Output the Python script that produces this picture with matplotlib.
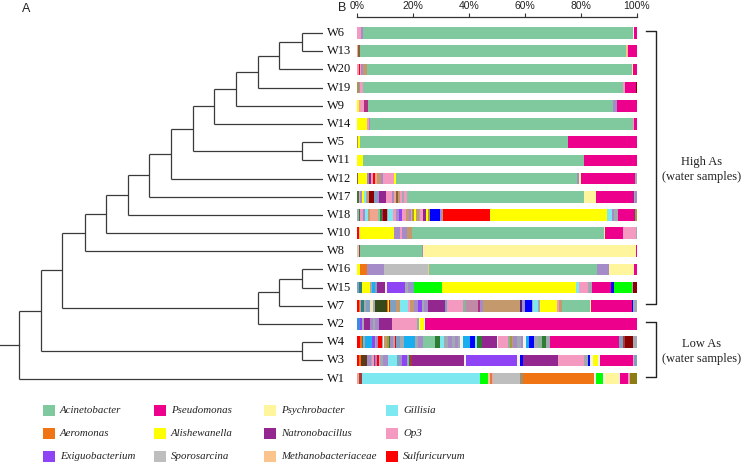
import matplotlib
matplotlib.use("Agg")
import matplotlib.pyplot as plt
from matplotlib import transforms
from matplotlib.patches import Rectangle

# ---------------- data ----------------
samples = ['W6', 'W13', 'W20', 'W19', 'W9', 'W14', 'W5', 'W11', 'W12', 'W17',
           'W18', 'W10', 'W8', 'W16', 'W15', 'W7', 'W2', 'W4', 'W3', 'W1']

# hierarchical clustering merges: (child a, child b, distance); merge k is named 'c{k}'
merges = [
    ('W6', 'W13', 0.069), ('c0', 'W20', 0.145), ('c1', 'W19', 0.214),
    ('c2', 'W9', 0.286), ('c3', 'W14', 0.359), ('W5', 'W11', 0.069),
    ('c4', 'c5', 0.428), ('c6', 'W12', 0.500), ('c7', 'W17', 0.572),
    ('c8', 'W18', 0.641), ('c9', 'W10', 0.714), ('c10', 'W8', 0.783),
    ('W16', 'W15', 0.069), ('c12', 'W7', 0.145), ('c13', 'W2', 0.214),
    ('c11', 'c14', 0.859), ('W4', 'W3', 0.069), ('c15', 'c16', 0.928),
    ('c17', 'W1', 1.000),
]

legend_taxa = ['Acinetobacter', 'Pseudomonas', 'Psychrobacter', 'Gillisia',
               'Aeromonas', 'Alishewanella', 'Natronobacillus', 'Op3',
               'Exiguobacterium', 'Sporosarcina', 'Methanobacteriaceae', 'Sulfuricurvum']
legend_keys = ['Aci', 'Pse', 'Psy', 'Gil', 'Aer', 'Ali', 'Nat', 'Op3',
               'Exi', 'Spo', 'Met', 'Sul']

colors = {
    'Aci': '#80C99E', 'Pse': '#EC008C', 'Psy': '#FFF59D', 'Gil': '#7DE8F0',
    'Aer': '#F07314', 'Ali': '#FFFF00', 'Nat': '#93278F', 'Op3': '#F49AC1',
    'Exi': '#8E44F5', 'Spo': '#BEBEBE', 'Met': '#FBC48D', 'Sul': '#FF0000',
    # minor taxa
    'lav': '#A58BC8', 'gray': '#A3A9B0', 'tan': '#C49A6C', 'salmon': '#F2A58E',
    'brown': '#8B5E3C', 'dbrown': '#5C3A1A', 'olive': '#A89A3C', 'olive2': '#8B7D12',
    'dolive': '#344A1A', 'dred': '#8B0000', 'brred': '#A83A3A', 'blue': '#0000FF',
    'cblue': '#19AEEF', 'sblue': '#3C8CE6', 'lime': '#00FF00', 'dgreen': '#2E7D32',
    'teal': '#2F7F7F', 'bgray': '#7FA0C0', 'ggreen': '#8FB09A', 'mauve': '#C08AA6',
    'mag': '#B03080', 'pale': '#F4F1E8', 'dpurple': '#4B1F6F', 'orange2': '#E07850',
    'cream': '#F3E4C0', 'sage': '#C8D4B8', 'gbrown': '#A09070',
}

W6 = [('Op3', 1.3), ('lav', 0.7), ('Aci', 96.6), ('pale', 0.2), ('Pse', 1.2)]
W13 = [('salmon', 0.5), ('brown', 0.7), ('Aci', 94.9), ('Met', 0.7), ('Pse', 3.2)]
W20 = [('Op3', 0.6), ('Sul', 0.4), ('Op3', 0.5), ('lav', 0.6), ('tan', 1.6), ('Aci', 94.5),
       ('Psy', 0.3), ('Pse', 1.5)]
W19 = [('olive', 0.7), ('lav', 0.5), ('Op3', 0.8), ('Aci', 92.9), ('Op3', 0.7), ('Pse', 3.9),
       ('dred', 0.5)]
W9 = [('Ali', 0.7), ('Op3', 1.9), ('mag', 1.2), ('lav', 0.3), ('Aci', 87.2), ('lav', 1.4),
      ('Pse', 7.3)]
W14 = [('Ali', 3.5), ('Op3', 0.7), ('lav', 0.4), ('Aci', 94.1), ('Op3', 0.2), ('Pse', 1.1)]
W5 = [('olive', 0.4), ('Ali', 0.5), ('pale', 0.2), ('Aci', 74.4), ('Pse', 24.5)]
W11 = [('Ali', 2.2), ('Aci', 78.9), ('Met', 0.1), ('Pse', 18.8)]
W12 = [('brown', 0.5), ('Ali', 2.9), ('lav', 0.8), ('Nat', 0.8), ('Op3', 0.8), ('Sul', 0.5),
       ('salmon', 0.9), ('tan', 1.4), ('lav', 0.6), ('Op3', 4.1), ('Ali', 0.5), ('Aci', 64.6),
       ('lav', 0.8), ('Psy', 0.8), ('Pse', 19.3), ('gray', 0.7)]
W17 = [('dgreen', 0.6), ('Op3', 0.6), ('lav', 0.6), ('Ali', 0.8), ('Gil', 0.6), ('gray', 0.4),
       ('tan', 0.8), ('dred', 1.8), ('bgray', 0.8), ('lav', 0.8), ('Nat', 2.7), ('Op3', 2.0),
       ('lav', 0.8), ('salmon', 0.6), ('brown', 0.6), ('tan', 0.8), ('Op3', 0.8), ('gray', 0.6),
       ('Op3', 1.0), ('Aci', 63.5), ('Psy', 4.2), ('Pse', 13.1), ('Nat', 0.5), ('gray', 0.4),
       ('lav', 0.6)]
W18 = [('gray', 0.6), ('dgreen', 0.6), ('Op3', 1.0), ('lav', 0.6), ('Gil', 1.2), ('tan', 0.6),
       ('salmon', 2.8), ('Aci', 0.8), ('dgreen', 0.6), ('mag', 0.4), ('dred', 1.4), ('gray', 0.6),
       ('Gil', 1.8), ('Op3', 0.8), ('lav', 1.2), ('Exi', 1.2), ('Op3', 1.4), ('tan', 0.8),
       ('lav', 0.8), ('Op3', 0.6), ('olive', 0.6), ('Ali', 0.6), ('tan', 1.0), ('gray', 0.6),
       ('Op3', 1.0), ('Nat', 1.2), ('Ali', 0.6), ('olive', 0.7), ('blue', 3.5), ('lav', 0.6),
       ('tan', 0.6), ('Sul', 16.7), ('Ali', 41.9), ('Gil', 1.6), ('lav', 0.7), ('gray', 1.6),
       ('Pse', 5.7), ('Nat', 0.3), ('olive', 0.7)]
W10 = [('Sul', 0.6), ('Met', 0.5), ('Ali', 12.2), ('lav', 2.1), ('Op3', 0.8), ('lav', 1.5),
       ('tan', 1.8), ('Aci', 68.7), ('Psy', 0.5), ('Pse', 6.2), ('Op3', 4.7), ('gray', 0.4)]
W8 = [('sage', 0.6), ('brred', 0.4), ('Aci', 22.1), ('lav', 0.6), ('Psy', 75.8), ('Pse', 0.5)]
W16 = [('Ali', 1.1), ('Aer', 2.4), ('lav', 6.3), ('Spo', 15.4), ('Met', 0.5), ('Aci', 59.9),
       ('lav', 4.5), ('Psy', 8.8), ('Pse', 1.1)]
W15 = [('bgray', 0.6), ('teal', 1.3), ('Ali', 2.7), ('gray', 0.8), ('cblue', 1.0), ('bgray', 0.6),
       ('Nat', 3.0), ('pale', 0.6), ('Exi', 6.5), ('gray', 1.2), ('lav', 1.0), ('bgray', 1.2),
       ('lime', 9.7), ('Ali', 48.0), ('Gil', 1.2), ('Op3', 3.2), ('gray', 1.3), ('Pse', 6.7),
       ('blue', 1.2), ('lime', 6.3), ('gray', 0.6), ('dred', 1.3)]
W7 = [('Sul', 0.6), ('Aer', 0.4), ('gray', 0.6), ('teal', 0.8), ('gray', 0.8), ('bgray', 1.4),
      ('cream', 1.0), ('gray', 0.8), ('dolive', 4.2), ('Aer', 0.4), ('Ali', 0.5), ('Sul', 0.4),
      ('bgray', 2.0), ('tan', 1.5), ('Gil', 2.9), ('Op3', 0.8), ('tan', 1.4), ('lav', 1.2),
      ('Exi', 1.4), ('gray', 1.0), ('lav', 1.4), ('Nat', 5.9), ('bgray', 0.6), ('Op3', 6.0),
      ('ggreen', 1.0), ('mauve', 4.3), ('mag', 0.8), ('lav', 0.8), ('tan', 13.3),
      ('dpurple', 0.9), ('lav', 0.9), ('blue', 2.4), ('gray', 0.6), ('Gil', 1.6), ('gray', 0.8),
      ('Ali', 5.9), ('Op3', 0.8), ('tan', 1.2), ('Aci', 9.9), ('Psy', 0.3), ('Pse', 14.6),
      ('blue', 0.6), ('gray', 1.3)]
W2 = [('sblue', 1.1), ('Exi', 0.8), ('gray', 0.6), ('Nat', 2.1), ('lav', 1.2), ('gray', 0.6),
      ('lav', 1.5), ('Nat', 4.7), ('Op3', 8.7), ('ggreen', 0.8), ('Psy', 0.4), ('Ali', 1.6),
      ('pale', 0.3), ('Pse', 75.6)]
W4 = [('Sul', 1.1), ('Aer', 0.6), ('teal', 0.6), ('gray', 0.6), ('cblue', 2.6), ('Exi', 0.8),
      ('gray', 0.5), ('lav', 0.6), ('Sul', 1.4), ('gray', 0.6), ('pale', 0.4), ('tan', 1.0),
      ('olive', 0.5), ('dgreen', 0.6), ('lav', 1.0), ('gray', 0.6), ('Sul', 0.6), ('bgray', 1.4),
      ('gray', 1.4), ('cblue', 3.8), ('gray', 1.2), ('lav', 1.8), ('Aci', 4.2), ('dgreen', 1.7),
      ('Gil', 1.6), ('gray', 1.2), ('lav', 1.4), ('gray', 1.2), ('lav', 1.2), ('gray', 0.6),
      ('pale', 0.9), ('cblue', 2.7), ('blue', 1.7), ('Gil', 0.6), ('dgreen', 1.8), ('Nat', 5.4),
      ('pale', 0.4), ('Op3', 3.7), ('ggreen', 0.6), ('olive', 0.6), ('tan', 0.6), ('lav', 1.4),
      ('gray', 1.2), ('lav', 1.0), ('pale', 0.8), ('cblue', 1.4), ('blue', 1.7), ('gray', 1.4),
      ('ggreen', 1.4), ('dgreen', 1.4), ('gray', 1.4), ('Pse', 24.8), ('bgray', 1.2),
      ('brred', 0.8), ('dred', 2.7), ('gray', 1.6)]
W3 = [('Sul', 0.7), ('Aer', 0.6), ('dbrown', 2.2), ('lav', 1.4), ('gray', 0.6), ('Op3', 0.6),
      ('mag', 0.4), ('lav', 0.8), ('Sul', 0.4), ('Op3', 0.6), ('gray', 1.0), ('lav', 1.9),
      ('Gil', 3.0), ('bgray', 1.2), ('lav', 0.8), ('Exi', 1.6), ('gray', 0.6), ('dgreen', 0.5),
      ('brred', 0.6), ('Nat', 18.7), ('pale', 0.7), ('Exi', 18.4), ('pale', 0.9), ('blue', 1.2),
      ('Nat', 12.5), ('Op3', 9.3), ('gray', 1.2), ('blue', 0.8), ('pale', 1.2), ('Ali', 1.8),
      ('pale', 0.6), ('Pse', 11.7), ('Op3', 0.5), ('bgray', 1.0)]
W1 = [('salmon', 0.7), ('brred', 1.0), ('Gil', 42.2), ('lime', 2.8), ('Met', 0.7),
      ('orange2', 0.7), ('salmon', 0.6), ('Spo', 9.5), ('gbrown', 1.2), ('Aer', 25.4),
      ('pale', 0.6), ('lime', 2.6), ('pale', 0.4), ('Psy', 5.3), ('pale', 0.4), ('Pse', 2.8),
      ('Op3', 0.5), ('olive2', 2.6)]

compositions = [W6, W13, W20, W19, W9, W14, W5, W11, W12, W17,
                W18, W10, W8, W16, W15, W7, W2, W4, W3, W1]

groups = [('High As\n(water samples)', 'W6', 'W7'), ('Low As\n(water samples)', 'W2', 'W1')]

# ---------------- figure ----------------
FW, FH = 745, 465
fig = plt.figure(figsize=(FW / 100, FH / 100), dpi=100)
serif = 'Liberation Serif'
sans = 'Liberation Sans'

row0_px, row_step_px = 33.0, 18.19
ax_top_px, ax_bot_px = 17.0, 390.0
ylim_top = (ax_top_px - row0_px) / row_step_px
ylim_bot = (ax_bot_px - row0_px) / row_step_px
ax_b_bottom = 1 - ax_bot_px / FH
ax_b_height = (ax_bot_px - ax_top_px) / FH

# ---- stacked bars ----
ax_b = fig.add_axes([357 / FW, ax_b_bottom, 280 / FW, ax_b_height])
for i, comp in enumerate(compositions):
    total = sum(v for _, v in comp)
    left = 0.0
    for key, v in comp:
        w = v / total * 100
        ax_b.barh(i, w, left=left, height=0.64, color=colors[key], linewidth=0)
        left += w
ax_b.set_xlim(0, 100)
ax_b.set_ylim(ylim_bot, ylim_top)
ax_b.set_yticks([])
for s in ['left', 'right', 'bottom']:
    ax_b.spines[s].set_visible(False)
ax_b.spines['top'].set_color('#333333')
ax_b.spines['top'].set_linewidth(0.9)
ax_b.xaxis.tick_top()
ax_b.set_xticks([0, 20, 40, 60, 80, 100])
ax_b.set_xticklabels(['0%', '20%', '40%', '60%', '80%', '100%'])
ax_b.tick_params(axis='x', top=True, bottom=False, labeltop=True, labelbottom=False,
                 direction='out', length=3, width=0.8, pad=1.0, labelsize=7.5,
                 colors='#333333')
for t in ax_b.get_xticklabels():
    t.set_fontfamily(sans)
    t.set_color('#222222')
ax_b.patch.set_visible(False)

# ---- dendrogram ----
ax_d = fig.add_axes([0, ax_b_bottom, 323 / FW, ax_b_height])
pos = {s: float(i) for i, s in enumerate(samples)}
hgt = {s: 0.0 for s in samples}
lc = '#3a3a3a'
for k, (a, b, h) in enumerate(merges):
    ya, yb = pos[a], pos[b]
    ax_d.plot([h, h], [ya, yb], color=lc, lw=0.9, solid_capstyle='butt')
    ax_d.plot([hgt[a], h], [ya, ya], color=lc, lw=0.9, solid_capstyle='butt')
    ax_d.plot([hgt[b], h], [yb, yb], color=lc, lw=0.9, solid_capstyle='butt')
    name = 'c%d' % k
    pos[name] = (ya + yb) / 2
    hgt[name] = h
root = 'c%d' % (len(merges) - 1)
stub_end = 323 / 304
ax_d.plot([hgt[root], stub_end], [pos[root], pos[root]], color=lc, lw=0.9)
ax_d.set_xlim(stub_end, 0)
ax_d.set_ylim(ylim_bot, ylim_top)
ax_d.axis('off')

lab_tr = transforms.offset_copy(ax_d.transData, fig=fig, x=4, y=0, units='dots')
for i, s in enumerate(samples):
    ax_d.text(0, i, s, transform=lab_tr, ha='left', va='center', fontsize=9,
              fontfamily=serif, color='#111111', clip_on=False)

# ---- overlay (pixel coordinates) ----
ax_o = fig.add_axes([0, 0, 1, 1], zorder=-1)
ax_o.set_xlim(0, FW)
ax_o.set_ylim(FH, 0)
ax_o.axis('off')

ax_o.text(26, 9, 'A', fontsize=9, fontfamily=sans, ha='center', va='center', color='#222222')
ax_o.text(342, 8, 'B', fontsize=9, fontfamily=sans, ha='center', va='center', color='#222222')

# brackets
for label, s0, s1 in groups:
    y0 = row0_px + row_step_px * samples.index(s0) - 2
    y1 = row0_px + row_step_px * samples.index(s1) - 2
    ax_o.plot([646, 656, 656, 646], [y0, y0, y1, y1], color='#222222', lw=1.0)
    ax_o.text(702, (y0 + y1) / 2 + 2, label, ha='center', va='center', fontsize=9,
              fontfamily=serif, linespacing=1.3, color='#222222')

# legend
col_x = [43, 154, 264, 386]
row_y = [410.5, 433.5, 456.3]
for j, (name, key) in enumerate(zip(legend_taxa, legend_keys)):
    r, c = divmod(j, 4)
    ax_o.add_patch(Rectangle((col_x[c], row_y[r] - 5.5), 12, 11, facecolor=colors[key],
                             edgecolor='none'))
    ax_o.text(col_x[c] + 17, row_y[r], name, ha='left', va='center', fontsize=7.8,
              fontfamily=serif, style='italic', color='#222222')

fig.savefig('out.png', dpi=100)
